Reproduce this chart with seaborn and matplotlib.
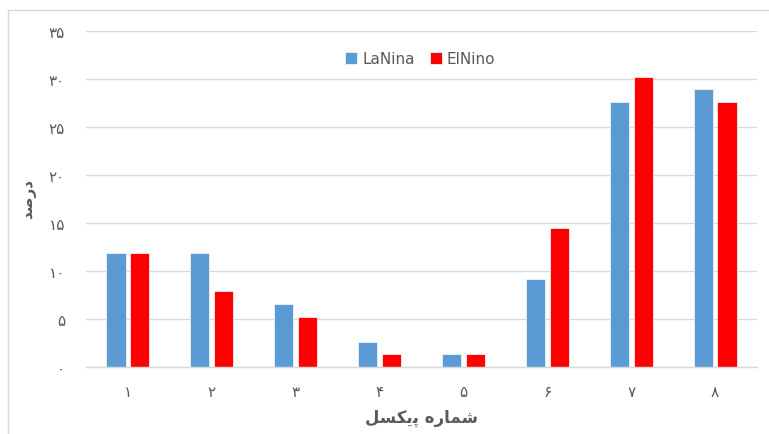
import matplotlib
matplotlib.use("Agg")
import matplotlib.pyplot as plt
from matplotlib.patches import Rectangle
import seaborn as sns
import pandas as pd

# Share of pixels (percent) per pixel number for each ENSO phase
pixels = ["۱", "۲", "۳", "۴", "۵", "۶", "۷", "۸"]
lanina = [11.84, 11.84, 6.58, 2.63, 1.32, 9.21, 27.63, 28.95]
elnino = [11.84, 7.89, 5.26, 1.32, 1.32, 14.47, 30.26, 27.63]
series_names = ["LaNina", "ElNino"]
y_ticks = [0, 5, 10, 15, 20, 25, 30, 35]
y_tick_labels = ["۰", "۵", "۱۰", "۱۵", "۲۰", "۲۵", "۳۰", "۳۵"]
# Arabic-script labels in shaped presentation forms, visual (left-to-right) order
x_label = "\uFEDE\uFEB4\uFB91\uFBFE\uFB58 \uFEE9\uFEAD\uFE8E\uFEE4\uFEB7"  # شماره پیکسل
y_label = "\uFEAA\uFEBB\uFEAD\uFEA9"  # درصد

df = pd.DataFrame({
    "pixel": pixels * 2,
    "value": lanina + elnino,
    "phase": [series_names[0]] * len(pixels) + [series_names[1]] * len(pixels),
})

sns.set_style("white")
plt.rcParams["font.family"] = ["DejaVu Sans", "Noto Sans"]

fig = plt.figure(figsize=(7.69, 4.35), dpi=100)
ax = fig.add_axes([86 / 769, 1 - 368 / 435, 671 / 769, 336 / 435])

sns.barplot(
    data=df, x="pixel", y="value", hue="phase", order=pixels,
    hue_order=series_names, palette=["#5B9BD5", "#FF0000"], saturation=1,
    width=0.57, gap=0.2, edgecolor="#F2F2F2", linewidth=0.6,
    errorbar=None, ax=ax,
)

ax.set_ylim(0, 35)
ax.set_xlim(-0.5, len(pixels) - 0.5)
ax.set_yticks(y_ticks)
ax.set_yticklabels(y_tick_labels)
ax.yaxis.grid(True, color="#D9D9D9", linewidth=1.0)
ax.set_axisbelow(True)
for side in ["top", "right", "left"]:
    ax.spines[side].set_visible(False)
ax.spines["bottom"].set_color("#D9D9D9")
ax.spines["bottom"].set_linewidth(1.0)
ax.tick_params(axis="both", length=0, colors="#595959", labelsize=11)
ax.tick_params(axis="y", pad=15)
ax.tick_params(axis="x", pad=12)

ax.set_xlabel(x_label, fontsize=12, fontweight="bold", color="#595959")
ax.xaxis.set_label_coords(0.5, -0.122)
ax.set_ylabel(y_label, fontsize=11, fontweight="bold", color="#595959")
ax.yaxis.set_label_coords(-0.075, 0.503)

handles, labels = ax.get_legend_handles_labels()
ax.legend(
    handles, labels, loc="center", bbox_to_anchor=(0.498, 0.917), ncol=2,
    frameon=False, handlelength=0.8, handleheight=0.8, handletextpad=0.3,
    columnspacing=1.0, fontsize=11, labelcolor="#595959",
)

# Chart-area frame
fig.patches.append(Rectangle((8 / 769, -0.1), 1.2, 1 - 11 / 435 + 0.1,
                             transform=fig.transFigure, fill=False,
                             edgecolor="#D9D9D9", linewidth=1.0))

fig.savefig("out.png", dpi=100)
